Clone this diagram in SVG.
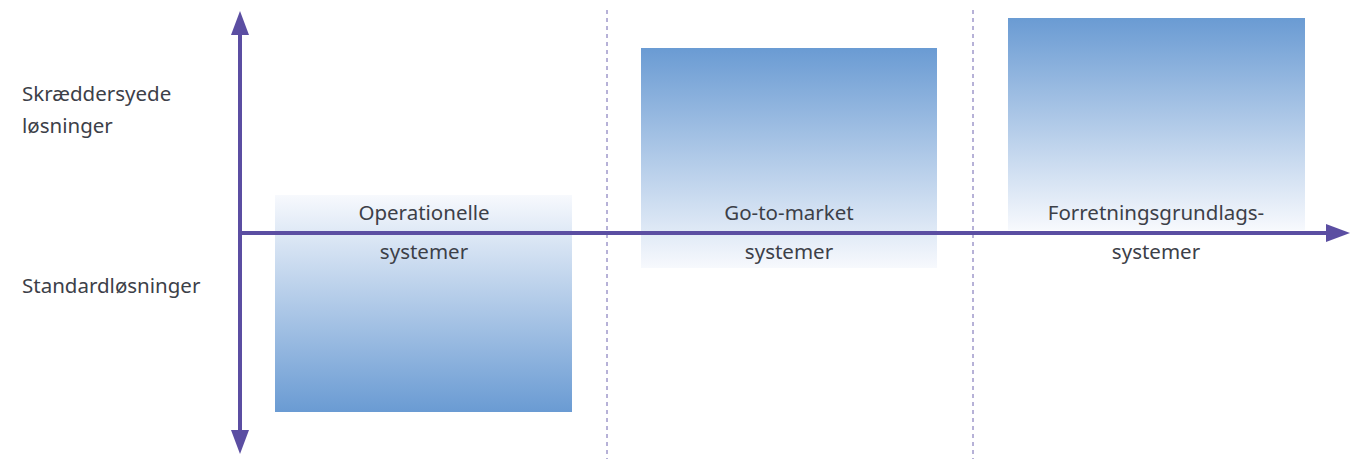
<svg xmlns="http://www.w3.org/2000/svg" width="1369" height="459" viewBox="0 0 1369 459">
  <defs>
    <linearGradient id="fadeUp" x1="0" y1="0" x2="0" y2="1">
      <stop offset="0" stop-color="#f7f9fd"/>
      <stop offset="1" stop-color="#6a9bd3"/>
    </linearGradient>
    <linearGradient id="fadeDown" x1="0" y1="0" x2="0" y2="1">
      <stop offset="0" stop-color="#6a9bd3"/>
      <stop offset="1" stop-color="#f7f9fd"/>
    </linearGradient>
    <marker id="arrow" viewBox="0 0 24 18" refX="2" refY="9" markerWidth="24" markerHeight="18" markerUnits="userSpaceOnUse" orient="auto">
      <path d="M0,0 L24,9 L0,18 Z" fill="#5b4ea2"/>
    </marker>
  </defs>
  <style>
    .lbl { font-family: "Noto Sans", "Liberation Sans", sans-serif; font-size: 20.5px; fill: #3c4048; }
    .mid { text-anchor: middle; }
    .axis { stroke: #5b4ea2; stroke-width: 4; fill: none; }
    .divider { stroke: #6e64b0; stroke-width: 1; stroke-dasharray: 4 4; }
  </style>

  <!-- column dividers -->
  <g id="dividers">
    <line class="divider" x1="607" y1="10" x2="607" y2="459"/>
    <line class="divider" x1="973" y1="10" x2="973" y2="459"/>
  </g>

  <!-- category blocks -->
  <g id="operationelle">
    <rect x="275" y="195" width="297" height="217" fill="url(#fadeUp)"/>
    <text class="lbl mid" x="424" y="220">Operationelle</text>
    <text class="lbl mid" x="424" y="259">systemer</text>
  </g>
  <g id="go-to-market">
    <rect x="641" y="48" width="296" height="220" fill="url(#fadeDown)"/>
    <text class="lbl mid" x="789" y="220">Go-to-market</text>
    <text class="lbl mid" x="789" y="259">systemer</text>
  </g>
  <g id="forretningsgrundlag">
    <rect x="1008" y="18" width="297" height="212" fill="url(#fadeDown)"/>
    <text class="lbl mid" x="1156" y="220">Forretningsgrundlags-</text>
    <text class="lbl mid" x="1156" y="259">systemer</text>
  </g>

  <!-- axes -->
  <g id="connectors">
    <line class="axis" x1="240" y1="233" x2="1328" y2="233" marker-end="url(#arrow)"/>
    <line class="axis" x1="240" y1="222" x2="240" y2="33" marker-end="url(#arrow)"/>
    <line class="axis" x1="240" y1="222" x2="240" y2="432" marker-end="url(#arrow)"/>
  </g>

  <!-- axis labels -->
  <g id="axis-labels">
    <text class="lbl" x="22" y="101">Skræddersyede</text>
    <text class="lbl" x="22" y="133">løsninger</text>
    <text class="lbl" x="22" y="293">Standardløsninger</text>
  </g>
</svg>
